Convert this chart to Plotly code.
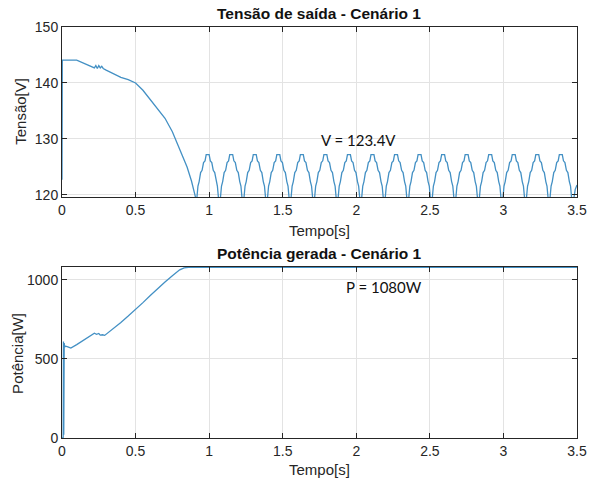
import plotly.graph_objects as go

# ---------------- data ----------------
# Output voltage: transient part
v_t_trans = [0.0, 0.002, 0.10, 0.15, 0.20, 0.22, 0.23, 0.24, 0.25, 0.26, 0.27, 0.28,
             0.30, 0.35, 0.40, 0.45, 0.50, 0.55, 0.60, 0.65, 0.70, 0.75, 0.80,
             0.85, 0.88, 0.905]
v_trans = [122.7, 144.1, 144.1, 143.5, 142.9, 142.7, 143.1, 142.6, 143.1, 142.7, 143.0, 142.6,
           142.3, 141.7, 141.0, 140.6, 140.0, 138.7, 137.0, 135.5, 133.7, 131.3, 128.2,
           125.0, 122.5, 119.3]
# one ripple cycle, as seen in the picture (time offset within cycle, voltage)
cycle_dt = [0.000, 0.006, 0.014, 0.022, 0.032, 0.042, 0.052, 0.062, 0.070, 0.090,
            0.098, 0.108, 0.118, 0.128, 0.138, 0.146, 0.154, 0.160]
cycle_v = [119.3, 119.3, 121.6, 122.4, 124.0, 124.4, 125.8, 126.1, 127.2, 127.2,
           126.1, 125.8, 124.4, 124.0, 122.4, 121.6, 119.3, 119.3]
# start times of the ripple cycles (minima)
cycle_starts = [0.91, 1.07, 1.23, 1.39, 1.55, 1.71, 1.87, 2.03, 2.19, 2.35,
                2.51, 2.67, 2.83, 2.99, 3.15, 3.31]
v_t_tail = [3.478, 3.488, 3.496, 3.500]
v_tail = [119.3, 121.0, 121.6, 121.8]

# Generated power
p_t = [0.0, 0.008, 0.010, 0.012, 0.015, 0.018, 0.025, 0.04, 0.06, 0.10, 0.15, 0.20,
       0.22, 0.235, 0.25, 0.26, 0.275, 0.29, 0.30, 0.35, 0.40, 0.45, 0.50, 0.55,
       0.60, 0.65, 0.70, 0.75, 0.80, 0.83, 0.86, 1.5, 2.0, 2.5, 3.0, 3.5]
p_vals = [0, 0, 610, 20, 600, 575, 580, 575, 568, 590, 620, 645,
          662, 655, 660, 650, 652, 648, 655, 690, 730, 770, 810, 855,
          900, 945, 985, 1025, 1062, 1075, 1078, 1078, 1078, 1078, 1078, 1078]

x_ticks = [0, 0.5, 1, 1.5, 2, 2.5, 3, 3.5]
x_tick_text = ["0", "0.5", "1", "1.5", "2", "2.5", "3", "3.5"]
v_ticks = [120, 130, 140, 150]
p_ticks = [0, 500, 1000]

# build voltage series
v_t = list(v_t_trans)
v_v = list(v_trans)
for s in cycle_starts:
    for dt, vv in zip(cycle_dt, cycle_v):
        v_t.append(round(s + dt, 4))
        v_v.append(vv)
v_t += v_t_tail
v_v += v_tail

# ---------------- figure ----------------
W, H = 598, 486
L, R, T, B = 62, 11, 27, 48
PW, PH = W - L - R, H - T - B


def px(x):
    return (x - L) / PW


def py(y):
    return (H - B - y) / PH


line_color = "#4390C4"
fig = go.Figure()
fig.add_trace(go.Scatter(x=v_t, y=v_v, mode="lines", line=dict(color=line_color, width=1.3),
                         xaxis="x", yaxis="y", showlegend=False))
fig.add_trace(go.Scatter(x=p_t, y=p_vals, mode="lines", line=dict(color=line_color, width=1.3),
                         xaxis="x2", yaxis="y2", showlegend=False))

tickfont = dict(family="Liberation Sans, Arial, sans-serif", size=14, color="#262626")
axis_common = dict(showline=True, linecolor="#262626", linewidth=1, mirror="ticks",
                   ticks="inside", ticklen=5, tickcolor="#262626",
                   showgrid=True, gridcolor="#E3E3E3", gridwidth=1, zeroline=False,
                   tickfont=tickfont)

fig.update_layout(
    width=W, height=H,
    margin=dict(l=L, r=R, t=T, b=B),
    paper_bgcolor="white", plot_bgcolor="white",
    xaxis=dict(domain=[0, 1], anchor="y", range=[0, 3.5], tickvals=x_ticks,
               ticktext=x_tick_text, **axis_common),
    yaxis=dict(domain=[py(197), 1], anchor="x", range=[119.64, 150], tickvals=v_ticks,
               **axis_common),
    xaxis2=dict(domain=[0, 1], anchor="y2", range=[0, 3.5], tickvals=x_ticks,
                ticktext=x_tick_text, **axis_common),
    yaxis2=dict(domain=[0, py(267)], anchor="x2", range=[0, 1080], tickvals=p_ticks,
                **axis_common),
)

txt_font = dict(family="Liberation Sans, Arial, sans-serif", size=15, color="#262626")
title_font = dict(family="Liberation Sans, Arial, sans-serif", size=15.5, color="#111111")
ann = [
    dict(x=px(324), y=py(13), text="<b>Tensão de saída - Cenário 1</b>", font=title_font),
    dict(x=px(324), y=py(253), text="<b>Potência gerada - Cenário 1</b>", font=title_font),
    dict(x=px(324), y=py(231), text="Tempo[s]", font=txt_font),
    dict(x=px(324), y=py(470), text="Tempo[s]", font=txt_font),
    dict(x=px(20), y=py(111), text="Tensão[V]", font=txt_font, textangle=-90),
    dict(x=px(16), y=py(353), text="Potência[W]", font=txt_font, textangle=-90),
    dict(x=px(364), y=py(140), text="V = 123.4V",
         font=dict(family="Lato, Open Sans, sans-serif", size=15, color="#111111")),
    dict(x=px(390), y=py(287), text="P = 1080W",
         font=dict(family="Lato, Open Sans, sans-serif", size=15, color="#111111")),
]
for a in ann:
    a.update(xref="paper", yref="paper", showarrow=False, xanchor="center", yanchor="middle")
fig.update_layout(annotations=ann)

fig.write_html("out.html")
